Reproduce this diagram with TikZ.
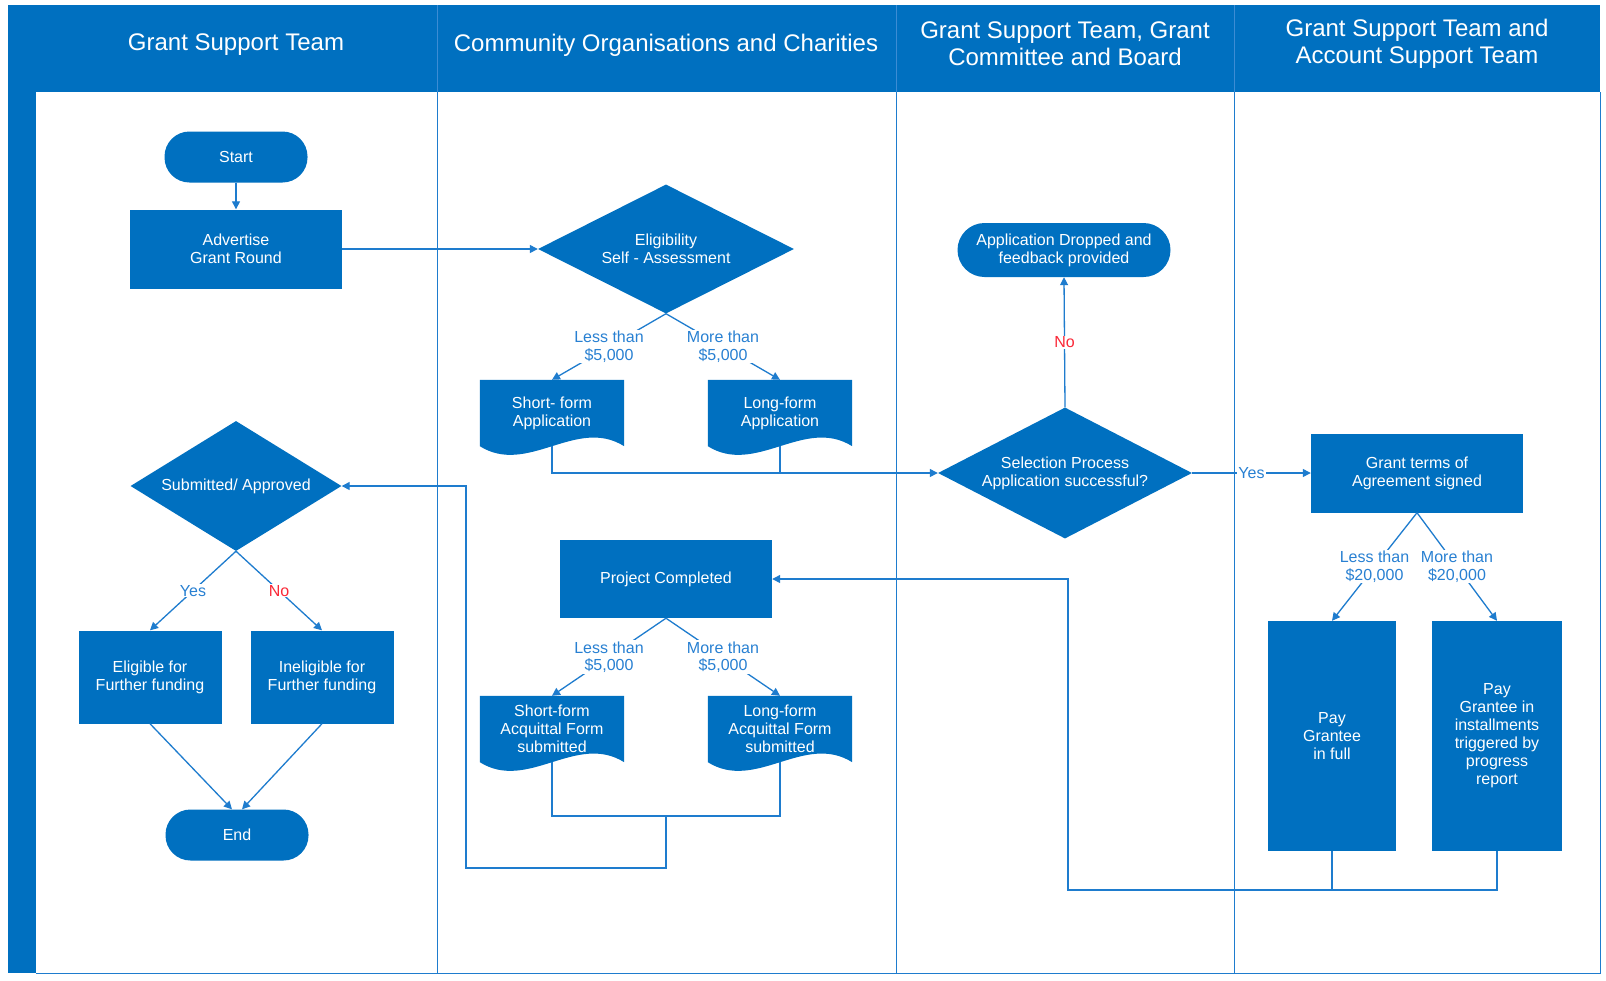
\documentclass[tikz,border=0pt]{standalone}
\usepackage{fontspec}
\setmainfont{Liberation Sans}
\usetikzlibrary{shapes.geometric,arrows.meta,calc}
\pgfdeclarelayer{background}
\pgfsetlayers{background,main}
\definecolor{brand}{RGB}{0,112,192}
\definecolor{wire}{RGB}{30,124,206}
\definecolor{lanel}{RGB}{60,140,212}
\definecolor{lbl}{RGB}{40,128,210}
\definecolor{noRed}{RGB}{250,40,55}
% document shape: straight top and sides, wavy bottom edge
\newcommand\docfill[1]{%
  \begin{pgfonlayer}{background}
    \fill[brand] (#1.north west) -- (#1.north east) -- (#1.south east)
      .. controls ($(#1.south east)+(-48,-30)$) and ($(#1.south west)+(48,30)$) .. (#1.south west) -- cycle;
  \end{pgfonlayer}}
\begin{document}
\begin{tikzpicture}[x=1pt,y=-1pt,
  every node/.style={font=\fontsize{16}{18}\selectfont, align=center},
  box/.style={rectangle, fill=brand, text=white, inner sep=0pt},
  term/.style={rectangle, rounded corners=25pt, fill=brand, text=white, inner sep=0pt},
  decide/.style={diamond, aspect=2, fill=brand, text=white, inner sep=0pt},
  docbox/.style={rectangle, text=white, inner sep=0pt, minimum width=144, minimum height=66},
  lane/.style={text=white, font=\fontsize{24}{26.6}\selectfont},
  wire/.style={draw=wire, line width=1.3pt},
  arrow/.style={wire, -{Triangle[length=8pt,width=8pt]}},
  elabel/.style={text=lbl, fill=white, inner sep=1pt, font=\fontsize{16}{17.5}\selectfont},
  nolabel/.style={text=noRed, fill=white, inner sep=1pt},
]
\useasboundingbox (0,0) rectangle (1606,980);
\begin{pgfonlayer}{background}
  \fill[white] (0,0) rectangle (1606,980);
\end{pgfonlayer}

% swimlane frame
\fill[brand] (8,5) rectangle (1600,92);
\fill[brand] (8,5) rectangle (36,973);
\draw[lanel, line width=0.8pt] (437,5) -- (437,92) (896,5) -- (896,92) (1234,5) -- (1234,92);
\draw[wire, line width=1pt] (437,92) -- (437,973) (896,92) -- (896,973) (1234,92) -- (1234,973);
\draw[wire, line width=1pt] (36,973) -- (1600,973) -- (1600,92);

% lane headings
\node[lane] (h1) at (236,45) {Grant Support Team};
\node[lane] (h2) at (666,45) {Community Organisations and Charities};
\node[lane] (h3) at (1065,44) {Grant Support Team, Grant\\Committee and Board};
\node[lane] (h4) at (1417,44) {Grant Support Team and\\Account Support Team};

% Grant Support Team lane
\node[term, minimum width=143, minimum height=51] (start) at (236,157) {Start};
\node[box, minimum width=212, minimum height=79] (adv) at (236,249) {Advertise\\Grant Round};
\node[decide, minimum width=211, minimum height=130] (sub) at (236,486) {Submitted/ Approved};
\node[box, minimum width=143, minimum height=93] (elg) at (150,677) {Eligible for\\Further funding};
\node[box, minimum width=143, minimum height=93] (inel) at (322,677) {Ineligible for\\Further funding};
\node[term, minimum width=143, minimum height=51] (end) at (237,835) {End};

% Community Organisations lane
\node[decide, minimum width=256, minimum height=129] (elig) at (666,249) {Eligibility\\Self - Assessment};
\node[docbox] (sfa) at (552,413) {Short- form\\Application};
\node[docbox] (lfa) at (780,413) {Long-form\\Application};
\docfill{sfa}\docfill{lfa}
\node[box, minimum width=212, minimum height=78] (pc) at (666,579) {Project Completed};
\node[docbox] (sfq) at (552,729) {Short-form\\Acquittal Form\\submitted};
\node[docbox] (lfq) at (780,729) {Long-form\\Acquittal Form\\submitted};
\docfill{sfq}\docfill{lfq}

% Committee lane
\node[term, minimum width=213, minimum height=54, rounded corners=27pt] (drop) at (1064,250) {Application Dropped and\\feedback provided};
\node[decide, minimum width=254, minimum height=131] (sel) at (1065,473) {Selection Process\\Application successful?};

% Account Support lane
\node[box, minimum width=212, minimum height=79] (gt) at (1417,473) {Grant terms of\\Agreement signed};
\node[box, minimum width=128, minimum height=230] (pf) at (1332,736) {Pay\\Grantee\\in full};
\node[box, minimum width=130, minimum height=230] (pi) at (1497,736) {Pay\\Grantee in\\installments\\triggered by\\progress\\report};

% junction points of the merging connectors
\coordinate (acqjoin) at (666,816);
\coordinate (loopc) at (466,868);
\coordinate (payjoin) at (1068,890);

% connectors
\draw[arrow] (start) -- (adv);
\draw[arrow] (adv.east) -- (elig.west);
\draw[arrow] (elig.south) -- node[elabel] {Less than\\\$5,000} (sfa.north);
\draw[arrow] (elig.south) -- node[elabel] {More than\\\$5,000} (lfa.north);
\draw[wire] (lfa.south) -- (lfa.south |- sel.west);
\draw[arrow] (sfa.south) |- (sel.west);
\draw[arrow] (sel.north) -- node[nolabel] {No} (drop.south);
\draw[arrow] (sel.east) -- node[elabel] {Yes} (gt.west);
\draw[arrow] (gt.south) -- node[elabel] {Less than\\\$20,000} (pf.north);
\draw[arrow] (gt.south) -- node[elabel] {More than\\\$20,000} (pi.north);
\draw[wire] (pf.south) -- (pf.south |- payjoin);
\draw[arrow] (pi.south) |- (payjoin) |- (pc.east);
\draw[arrow] (pc.south) -- node[elabel] {Less than\\\$5,000} (sfq.north);
\draw[arrow] (pc.south) -- node[elabel] {More than\\\$5,000} (lfq.north);
\draw[wire] (sfq.south) |- (acqjoin);
\draw[wire] (lfq.south) |- (acqjoin);
\draw[arrow] (acqjoin) -- (acqjoin |- loopc) -- (loopc) |- (sub.east);
\draw[arrow] (sub.south) -- node[elabel] {Yes} (elg.north);
\draw[arrow] (sub.south) -- node[elabel, text=noRed] {No} (inel.north);
\draw[arrow] (elg.south) -- ($(end.north)+(-5,0)$);
\draw[arrow] (inel.south) -- ($(end.north)+(5,0)$);
\end{tikzpicture}
\end{document}
